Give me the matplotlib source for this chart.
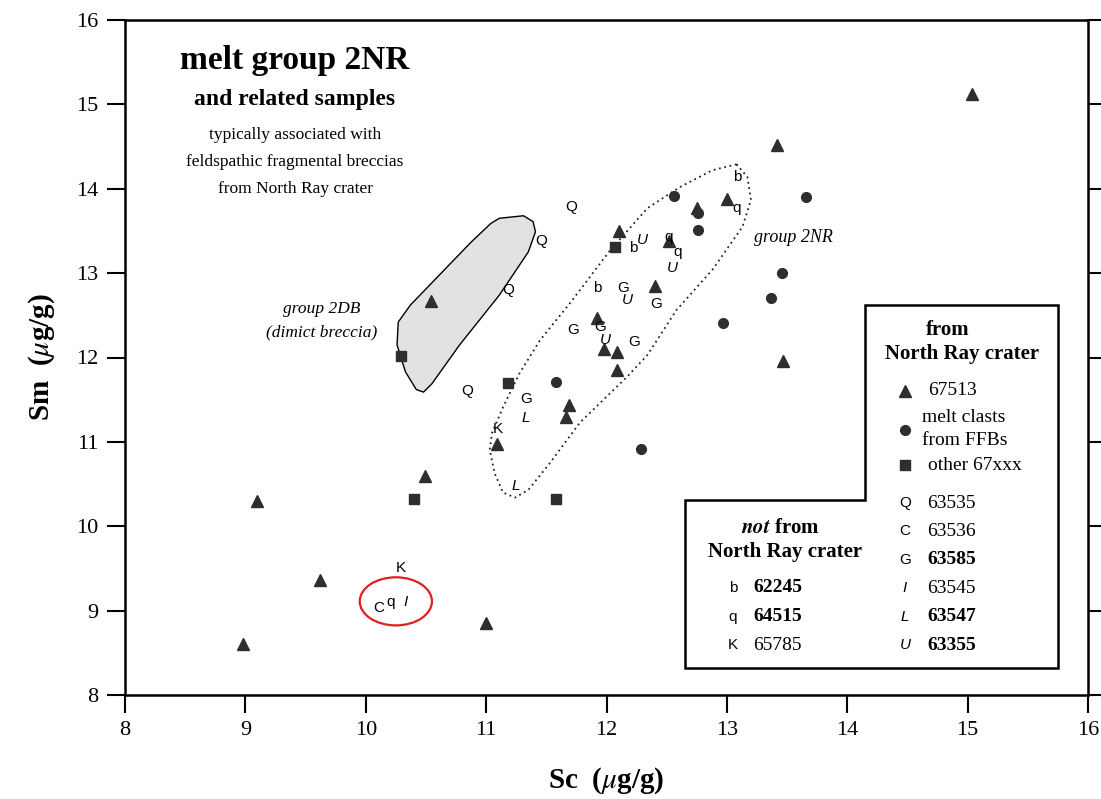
import numpy as np
import matplotlib.pyplot as plt
from matplotlib.patches import Polygon, Ellipse
from matplotlib.lines import Line2D

plt.rcParams['font.family'] = ['Liberation Serif', 'DejaVu Serif']
plt.rcParams['mathtext.fontset'] = 'stix'

# 67513 (triangles)
tri_sc = [8.98, 9.10, 9.62, 11.00, 10.49, 10.54, 11.09, 11.69, 11.66, 11.92,
          11.98, 12.09, 12.09, 12.10, 12.52, 12.40, 13.00, 13.42, 13.47, 15.04, 12.75]
tri_sm = [8.60, 10.30, 9.36, 8.85, 10.60, 12.67, 10.98, 11.44, 11.29, 12.47,
          12.10, 12.07, 11.85, 13.50, 13.38, 12.85, 13.88, 14.52, 11.96, 15.12, 13.77]

# melt clasts from FFBs (circles)
cir_sc = [12.56, 12.76, 12.76, 13.66, 13.46, 13.37, 12.97, 11.58, 12.29]
cir_sm = [13.91, 13.71, 13.51, 13.90, 13.00, 12.71, 12.41, 11.71, 10.91]

# other 67xxx (squares)
sq_sc = [12.07, 10.29, 11.18, 10.40, 11.58]
sq_sm = [13.31, 12.02, 11.70, 10.32, 10.32]

# samples shown as letters
let_lab = ['Q', 'Q', 'Q', 'Q',
           'b', 'b', 'b',
           'q', 'q', 'q', 'q',
           'U', 'U', 'U', 'U',
           'G', 'G', 'G', 'G', 'G', 'G',
           'L', 'L',
           'K', 'K',
           'C', 'I']
let_sc = [11.71, 11.46, 11.18, 10.84,
          13.09, 12.22, 11.92,
          13.08, 12.52, 12.59, 10.21,
          12.30, 12.55, 12.17, 11.99,
          12.14, 12.41, 11.72, 11.95, 12.23, 11.33,
          11.33, 11.25,
          11.10, 10.29,
          10.11, 10.33]
let_sm = [13.78, 13.38, 12.80, 11.60,
          14.14, 13.30, 12.82,
          13.77, 13.43, 13.25, 9.10,
          13.39, 13.06, 12.68, 12.21,
          12.82, 12.64, 12.32, 12.36, 12.18, 11.51,
          11.28, 10.48,
          11.15, 9.50,
          9.03, 9.10]
italic_letters = ['I', 'L', 'U']

# group 2DB field outline
db_sc = [11.11, 11.31, 11.39, 11.41, 11.35, 11.11, 10.78, 10.55, 10.48, 10.42,
         10.33, 10.26, 10.27, 10.37, 10.87, 11.04]
db_sm = [13.65, 13.68, 13.61, 13.49, 13.25, 12.74, 12.15, 11.69, 11.59, 11.62,
         11.83, 12.15, 12.42, 12.62, 13.36, 13.59]

# group 2NR field outline
nr_sc = [13.08, 13.17, 13.20, 13.13, 12.88, 12.58, 12.34, 12.17, 11.78, 11.53,
         11.35, 11.24, 11.14, 11.07, 11.03, 11.05, 11.14, 11.28, 11.45, 11.70,
         12.03, 12.34, 12.61, 12.88, 13.08]
nr_sm = [14.29, 14.14, 13.87, 13.55, 13.04, 12.56, 12.03, 11.77, 11.23, 10.75,
         10.43, 10.34, 10.40, 10.63, 10.91, 11.11, 11.41, 11.82, 12.21, 12.65,
         13.27, 13.77, 14.02, 14.22, 14.29]

W, H = 1101, 799


def fp(x, y):
    return x / W, 1 - y / H


fig = plt.figure(figsize=(W / 100, H / 100), dpi=100)
ax = fig.add_axes([125 / W, 104 / H, 963 / W, 675 / H])
ax.set_xlim(8, 16)
ax.set_ylim(8, 16)
ax.set_xticks(range(8, 17))
ax.set_yticks(range(8, 17))
ax.tick_params(direction='out', length=13, width=1.5, labelsize=16,
               right=True, top=False, pad=6)
for s in ax.spines.values():
    s.set_linewidth(1.8)

ax.set_xlabel(r'Sc  ($\mu$g/g)', fontsize=21, fontweight='bold', labelpad=18)
ax.set_ylabel(r'Sm  ($\mu$g/g)', fontsize=21, fontweight='bold', labelpad=14)

ax.add_patch(Polygon(list(zip(db_sc, db_sm)), closed=True, facecolor='#e2e2e2',
                     edgecolor='black', lw=1.0, zorder=1))
ax.plot(nr_sc, nr_sm, color='#222222', ls=(0, (1, 2)), lw=1.3, zorder=1)

mk = '#2e2e2e'
ax.plot(tri_sc, tri_sm, '^', color=mk, ms=8, ls='none', zorder=3)
ax.plot(cir_sc, cir_sm, 'o', color=mk, ms=7, ls='none', zorder=3)
ax.plot(sq_sc, sq_sm, 's', color=mk, ms=6.5, ls='none', zorder=3)

for lab, x, y in zip(let_lab, let_sc, let_sm):
    ax.text(x, y, lab, ha='center', va='center', fontsize=11,
            family='Liberation Sans',
            style='italic' if lab in italic_letters else 'normal', zorder=4)

ax.add_patch(Ellipse((10.25, 9.11), 0.60, 0.57, fill=False, edgecolor='#e02020',
                     lw=1.6, zorder=5))

# annotation texts
fig.text(*fp(295, 60), 'melt group 2NR', ha='center', va='center',
         fontsize=24, fontweight='bold')
fig.text(*fp(295, 100), 'and related samples', ha='center', va='center',
         fontsize=17, fontweight='bold')
fig.text(*fp(295, 135), 'typically associated with', ha='center', va='center', fontsize=12.5)
fig.text(*fp(295, 162), 'feldspathic fragmental breccias', ha='center', va='center', fontsize=12.5)
fig.text(*fp(295, 189), 'from North Ray crater', ha='center', va='center', fontsize=12.5)
fig.text(*fp(793, 238), 'group 2NR', ha='center', va='center', fontsize=13, style='italic')
fig.text(*fp(322, 309), 'group 2DB', ha='center', va='center', fontsize=12.5, style='italic')
fig.text(*fp(322, 332), '(dimict breccia)', ha='center', va='center', fontsize=12.5, style='italic')

# legend box (stepped outline)
box = [fp(865, 305), fp(1058, 305), fp(1058, 668), fp(685, 668),
       fp(685, 500), fp(865, 500)]
fig.add_artist(Polygon(box, closed=True, fill=True, facecolor='white',
                       edgecolor='black', lw=1.8, transform=fig.transFigure, zorder=6))

fig.text(*fp(948, 330), 'from', ha='center', va='center', fontsize=15,
         fontweight='bold', zorder=7)
fig.text(*fp(962, 354), 'North Ray crater', ha='center', va='center', fontsize=15,
         fontweight='bold', zorder=7)


def leg_marker(x, y, m, ms):
    fig.add_artist(Line2D([x / W], [1 - y / H], marker=m, color=mk, ms=ms, ls='none',
                          transform=fig.transFigure, zorder=7))


leg_marker(905, 391, '^', 8)
fig.text(*fp(928, 391), '67513', ha='left', va='center', fontsize=14, zorder=7)
leg_marker(905, 430, 'o', 7)
fig.text(*fp(922, 418), 'melt clasts', ha='left', va='center', fontsize=14, zorder=7)
fig.text(*fp(922, 440), 'from FFBs', ha='left', va='center', fontsize=14, zorder=7)
leg_marker(905, 465, 's', 6.5)
fig.text(*fp(928, 465), 'other 67xxx', ha='left', va='center', fontsize=14, zorder=7)

right_items = [('Q', '63535', 'normal'), ('C', '63536', 'normal'), ('G', '63585', 'bold'),
               ('I', '63545', 'normal'), ('L', '63547', 'bold'), ('U', '63355', 'bold')]
for i, (lab, num, wt) in enumerate(right_items):
    yy = 503 + i * 28.4
    fig.text(*fp(905, yy), lab, ha='center', va='center', fontsize=11,
             family='Liberation Sans',
             style='italic' if lab in italic_letters else 'normal', zorder=7)
    fig.text(*fp(927, yy), num, ha='left', va='center', fontsize=14,
             fontweight=wt, zorder=7)

fig.text(*fp(780, 528), r'$\mathbfit{not}$ from', ha='center', va='center',
         fontsize=15, fontweight='bold', zorder=7)
fig.text(*fp(785, 552), 'North Ray crater', ha='center', va='center', fontsize=15,
         fontweight='bold', zorder=7)
left_items = [('b', '62245', 'bold'), ('q', '64515', 'bold'), ('K', '65785', 'normal')]
for i, (lab, num, wt) in enumerate(left_items):
    yy = 588 + i * 28.5
    fig.text(*fp(733, yy), lab, ha='center', va='center', fontsize=11,
             family='Liberation Sans', zorder=7)
    fig.text(*fp(753, yy), num, ha='left', va='center', fontsize=14,
             fontweight=wt, zorder=7)

fig.savefig('out.png', dpi=100, facecolor='white')
